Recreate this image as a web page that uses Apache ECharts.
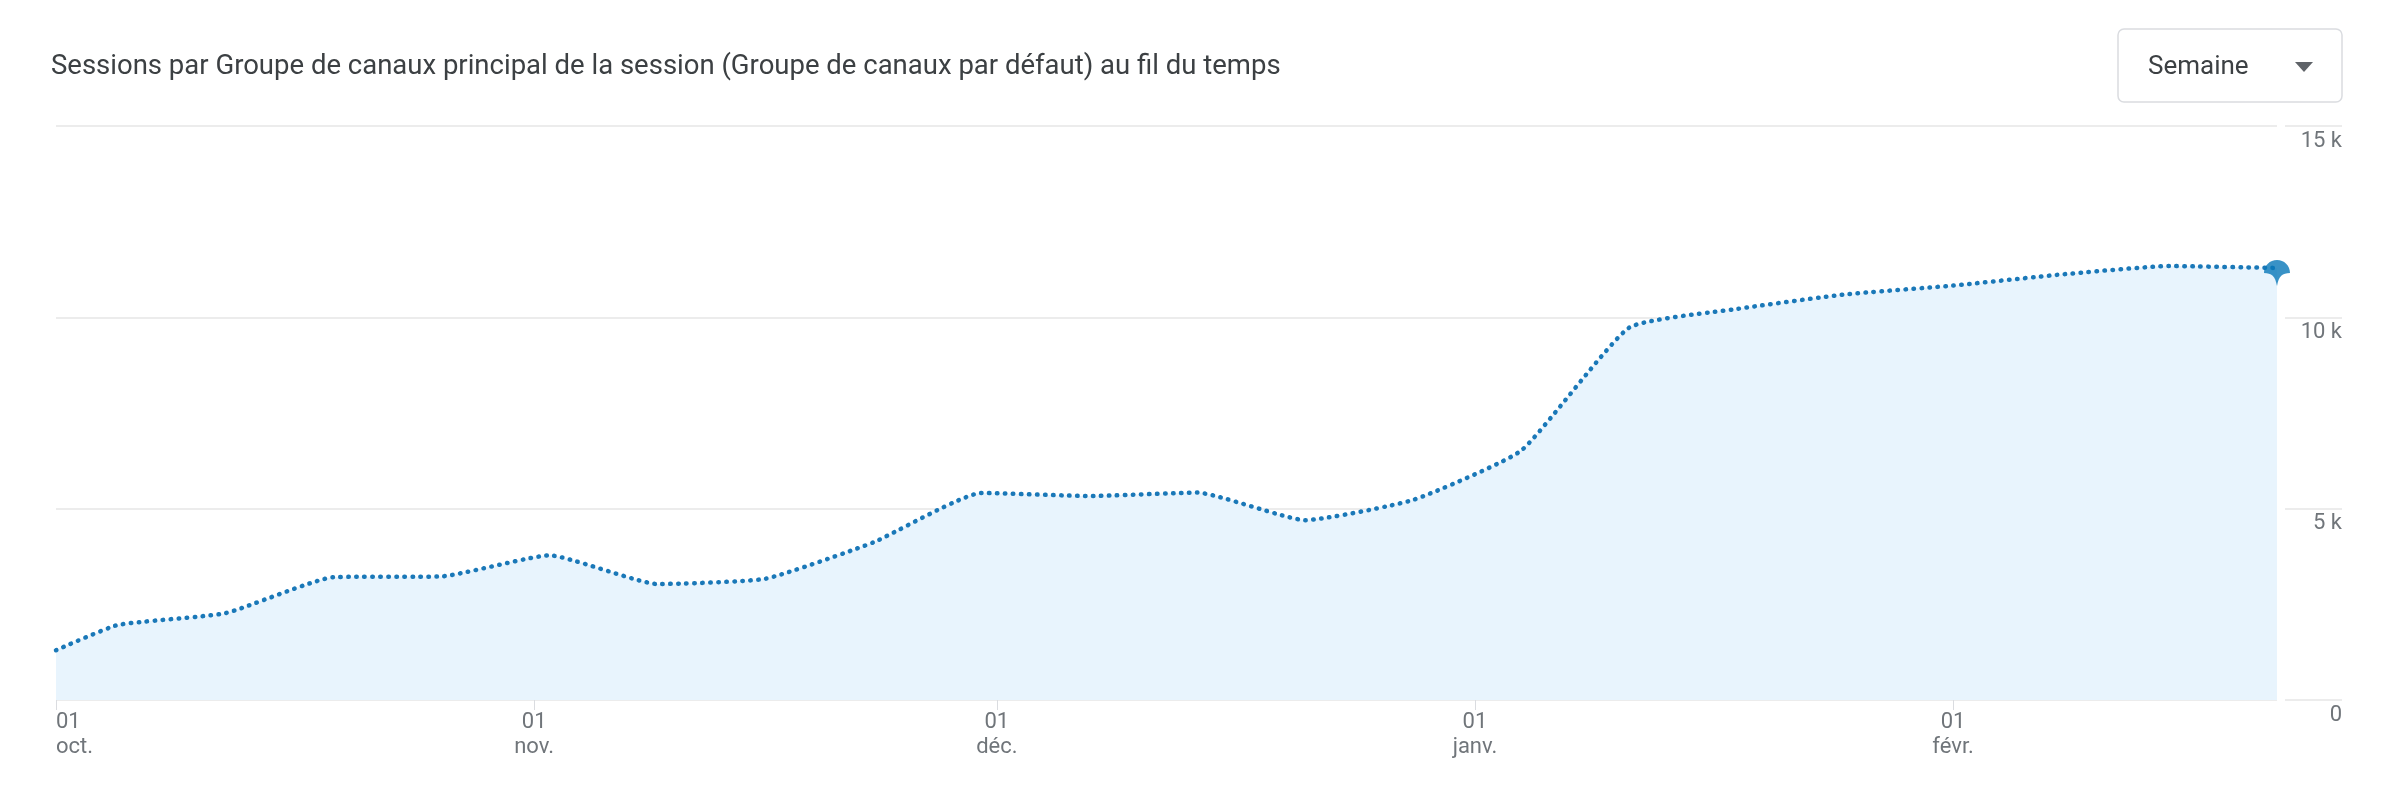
<!DOCTYPE html>
<html>
<head>
<meta charset="utf-8">
<script src="https://cdn.jsdelivr.net/npm/echarts@6/dist/echarts.min.js"></script>
<style>
  html, body { margin: 0; padding: 0; background: #fff; }
  #main { width: 2386px; height: 798px; }
</style>
</head>
<body>
<div id="main"></div>
<script>
// weekly sessions (first point is the partial week starting on Oct 1)
var weekDates = ['2020-10-01', '2020-10-05', '2020-10-12', '2020-10-19', '2020-10-26',
    '2020-11-02', '2020-11-09', '2020-11-16', '2020-11-23', '2020-11-30',
    '2020-12-07', '2020-12-14', '2020-12-21', '2020-12-28',
    '2021-01-04', '2021-01-11', '2021-01-18', '2021-01-25',
    '2021-02-01', '2021-02-08', '2021-02-15', '2021-02-22'];
var sessions = [1300, 1960, 2270, 3210, 3230,
    3780, 3030, 3170, 4120, 5410,
    5330, 5420, 4700, 5230,
    6520, 9730, 10220, 10600,
    10830, 11120, 11340, 11290];

var monthTicks = ['2020-10-01', '2020-11-01', '2020-12-01', '2021-01-01', '2021-02-01'];
var monthNames = ['janv.', 'févr.', 'mars', 'avr.', 'mai', 'juin',
    'juil.', 'août', 'sept.', 'oct.', 'nov.', 'déc.'];

var titleText = 'Sessions par Groupe de canaux principal de la session (Groupe de canaux par défaut) au fil du temps';
var periodLabel = 'Semaine';

function toTime(s) {
    var p = s.split('-');
    return new Date(+p[0], +p[1] - 1, +p[2]).getTime();
}

var lineData = weekDates.map(function (d, i) { return [toTime(d), sessions[i]]; });
var last = lineData[lineData.length - 1];
var tickTimes = monthTicks.map(toTime);

function kFormat(v) {
    return v === 0 ? '0' : (v / 1000) + ' k';
}

var chart = echarts.init(document.getElementById('main'));

var option = {
    animation: false,
    title: {
        text: titleText,
        left: 46,
        top: 48,
        textStyle: {
            fontFamily: 'Roboto',
            fontSize: 27.5,
            fontWeight: 'normal',
            color: '#3c4043'
        }
    },
    grid: [{
        left: 56,
        right: 109,
        top: 126,
        bottom: 98
    }, {
        left: 2285,
        right: 44,
        top: 126,
        bottom: 98
    }],
    xAxis: [{
        // timestamps on a value axis so the month ticks can be placed exactly
        type: 'value',
        gridIndex: 0,
        min: toTime(weekDates[0]),
        max: toTime(weekDates[weekDates.length - 1]),
        axisLine: { show: false },
        splitLine: { show: false },
        axisTick: {
            show: true,
            length: 10,
            customValues: tickTimes,
            lineStyle: { color: '#dadce0' }
        },
        axisLabel: {
            customValues: tickTimes,
            alignMinLabel: 'left',
            margin: 10,
            fontFamily: 'Roboto',
            fontSize: 22,
            lineHeight: 25,
            color: '#70757a',
            formatter: function (v) {
                var d = new Date(v);
                return String(d.getDate()).padStart(2, '0') + '\n' + monthNames[d.getMonth()];
            }
        }
    }, {
        type: 'value',
        gridIndex: 1,
        show: false
    }],
    yAxis: [{
        type: 'value',
        gridIndex: 0,
        min: 0,
        max: 15000,
        interval: 5000,
        axisLine: { show: false },
        axisTick: { show: false },
        axisLabel: { show: false },
        splitLine: { lineStyle: { color: '#e6e6e6', width: 1.5 } }
    }, {
        type: 'value',
        gridIndex: 1,
        position: 'right',
        min: 0,
        max: 15000,
        interval: 5000,
        axisLine: { show: false },
        axisTick: { show: false },
        splitLine: { lineStyle: { color: '#e6e6e6', width: 1.5 } },
        axisLabel: {
            inside: true,
            margin: 0,
            verticalAlign: 'top',
            padding: [4, 0, 0, 0],
            fontFamily: 'Roboto',
            fontSize: 22,
            color: '#70757a',
            formatter: kFormat
        }
    }],
    series: [{
        name: 'Sessions',
        type: 'line',
        xAxisIndex: 0,
        yAxisIndex: 0,
        smooth: 0.15,
        showSymbol: false,
        data: lineData,
        lineStyle: {
            color: '#1a78b8',
            width: 4.5,
            type: [0.5, 7.5],
            cap: 'round'
        },
        areaStyle: {
            color: '#e8f4fd',
            opacity: 1
        },
        z: 2
    }, {
        name: 'Dernier point',
        type: 'scatter',
        xAxisIndex: 0,
        yAxisIndex: 0,
        data: [last],
        // pin: round cap with a pointed tail under the last value
        symbol: 'path://M0,12C0,5 5.5,0 12,0C18.5,0 24,5 24,12C17,12 13.5,15 12,24C10.5,15 7,12 0,12Z',
        symbolSize: [26, 26],
        symbolOffset: [0, 5],
        symbolKeepAspect: true,
        itemStyle: { color: '#0777b8' },
        z: 3
    }],
    graphic: [{
        type: 'rect',
        shape: { x: 2118, y: 29, width: 224, height: 73, r: 6 },
        style: { fill: '#fff', stroke: '#dadce0', lineWidth: 1.5 }
    }, {
        type: 'text',
        x: 2148,
        y: 67,
        style: {
            text: periodLabel,
            fill: '#3c4043',
            font: '26px Roboto',
            verticalAlign: 'middle'
        }
    }, {
        type: 'polygon',
        shape: { points: [[2295, 62], [2313, 62], [2304, 72]] },
        style: { fill: '#5f6368' }
    }]
};

chart.setOption(option);
</script>
</body>
</html>
